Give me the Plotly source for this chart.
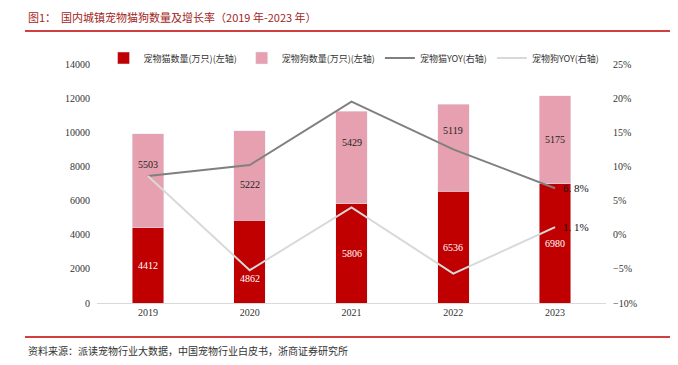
import plotly.graph_objects as go

years = ["2019", "2020", "2021", "2022", "2023"]
cats = [4412, 4862, 5806, 6536, 6980]
dogs = [5503, 5222, 5429, 5119, 5175]
cat_yoy = [8.6, 10.2, 19.5, 12.5, 6.8]
dog_yoy = [8.6, -5.2, 4.0, -5.7, 1.1]
yoy_labels_cat = ["", "", "", "", "6. 8%"]
yoy_labels_dog = ["", "", "", "", "1. 1%"]

# label nudges (px, up positive) so value labels avoid the lines, as in the source
cat_label_shift = [0, -17, 0, 0, 0]
dog_label_shift = [16, -9, 15, 17, 0]

# page body has an 8px margin, so the figure is drawn 8px in and down
OFF = 8
W, H = 678 - OFF, 365 - OFF
L, R, T, B = 97 - OFF, 606 - OFF, 64 - OFF, 303 - OFF

def px(x):
    return (x - OFF - L) / (R - L)

def py(y):
    return (B - (y - OFF)) / (B - T)

FONT = "Liberation Serif, Noto Sans CJK SC, serif"
CJK = "Noto Sans CJK SC, Liberation Serif"

fig = go.Figure()
fig.add_trace(go.Bar(x=years, y=cats, name="宠物猫数量(万只)(左轴)", marker_color="#C00000", width=0.31))
fig.add_trace(go.Bar(x=years, y=dogs, name="宠物狗数量(万只)(左轴)", marker_color="#E6A0AF", width=0.31))
fig.add_trace(go.Scatter(x=years, y=cat_yoy, name="宠物猫YOY(右轴)", yaxis="y2", mode="lines",
                         line=dict(color="#808080", width=2)))
fig.add_trace(go.Scatter(x=years, y=dog_yoy, name="宠物狗YOY(右轴)", yaxis="y2", mode="lines",
                         line=dict(color="#D9D9D9", width=2)))

for i, (c, d, cs, ds) in enumerate(zip(cats, dogs, cat_label_shift, dog_label_shift)):
    fig.add_annotation(x=i, xref="x", y=c / 2, yref="y", text=str(c), showarrow=False, yshift=cs,
                       font=dict(size=10, color="white", family=FONT))
    fig.add_annotation(x=i, xref="x", y=c + d / 2, yref="y", text=str(d), showarrow=False, yshift=ds,
                       font=dict(size=10, color="#222222", family=FONT))

for i, (cy, dy, cl, dl) in enumerate(zip(cat_yoy, dog_yoy, yoy_labels_cat, yoy_labels_dog)):
    if cl:
        fig.add_annotation(x=i, xref="x", y=cy, yref="y2", text=cl, showarrow=False, xanchor="left",
                           xshift=6, font=dict(size=11, color="#111111", family=FONT))
    if dl:
        fig.add_annotation(x=i, xref="x", y=dy, yref="y2", text=dl, showarrow=False, xanchor="left",
                           xshift=6, font=dict(size=11, color="#111111", family=FONT))

fig.update_layout(
    width=W, height=H,
    margin=dict(l=L, r=W - R, t=T, b=H - B, pad=0),
    barmode="stack",
    plot_bgcolor="white", paper_bgcolor="white",
    font=dict(family=FONT, size=10, color="#333333"),
    showlegend=True,
    legend=dict(orientation="h", x=0.505, xanchor="center", y=py(58), yanchor="middle",
                font=dict(family=CJK, size=9, color="#333333"), itemwidth=30,
                traceorder="normal", bgcolor="rgba(0,0,0,0)"),
    xaxis=dict(type="category", range=[-0.5, 4.5], showgrid=False, showline=True, linecolor="#D9D9D9", linewidth=1,
               ticks="", tickfont=dict(size=10, family=FONT), fixedrange=True),
    yaxis=dict(range=[0, 14000], dtick=2000, tickformat="d", showgrid=False, zeroline=False, showline=False,
               ticks="", tickfont=dict(size=10, family=FONT), ticklabelstandoff=6),
    yaxis2=dict(range=[-10, 25], dtick=5, overlaying="y", side="right", showgrid=False,
                zeroline=False, showline=False, ticksuffix="%", ticks="",
                tickfont=dict(size=10, family=FONT), ticklabelstandoff=6),
)

fig.add_annotation(text="图1：  国内城镇宠物猫狗数量及增长率（2019 年-2023 年）", xref="paper", yref="paper",
                   x=px(26), y=py(17), xanchor="left", yanchor="middle", showarrow=False,
                   font=dict(family=CJK, size=11, color="#A31F24"))
fig.add_annotation(text="资料来源：派读宠物行业大数据，中国宠物行业白皮书，浙商证券研究所", xref="paper", yref="paper",
                   x=px(26), y=py(350), xanchor="left", yanchor="middle", showarrow=False,
                   font=dict(family=CJK, size=10, color="#333333"))
fig.add_shape(type="line", xref="paper", yref="paper", x0=px(25), x1=px(672), y0=py(31), y1=py(31),
              line=dict(color="#C00000", width=1.5))
fig.add_shape(type="line", xref="paper", yref="paper", x0=px(25), x1=px(672), y0=py(337), y1=py(337),
              line=dict(color="#C00000", width=1.5))

fig.write_html("out.html")
